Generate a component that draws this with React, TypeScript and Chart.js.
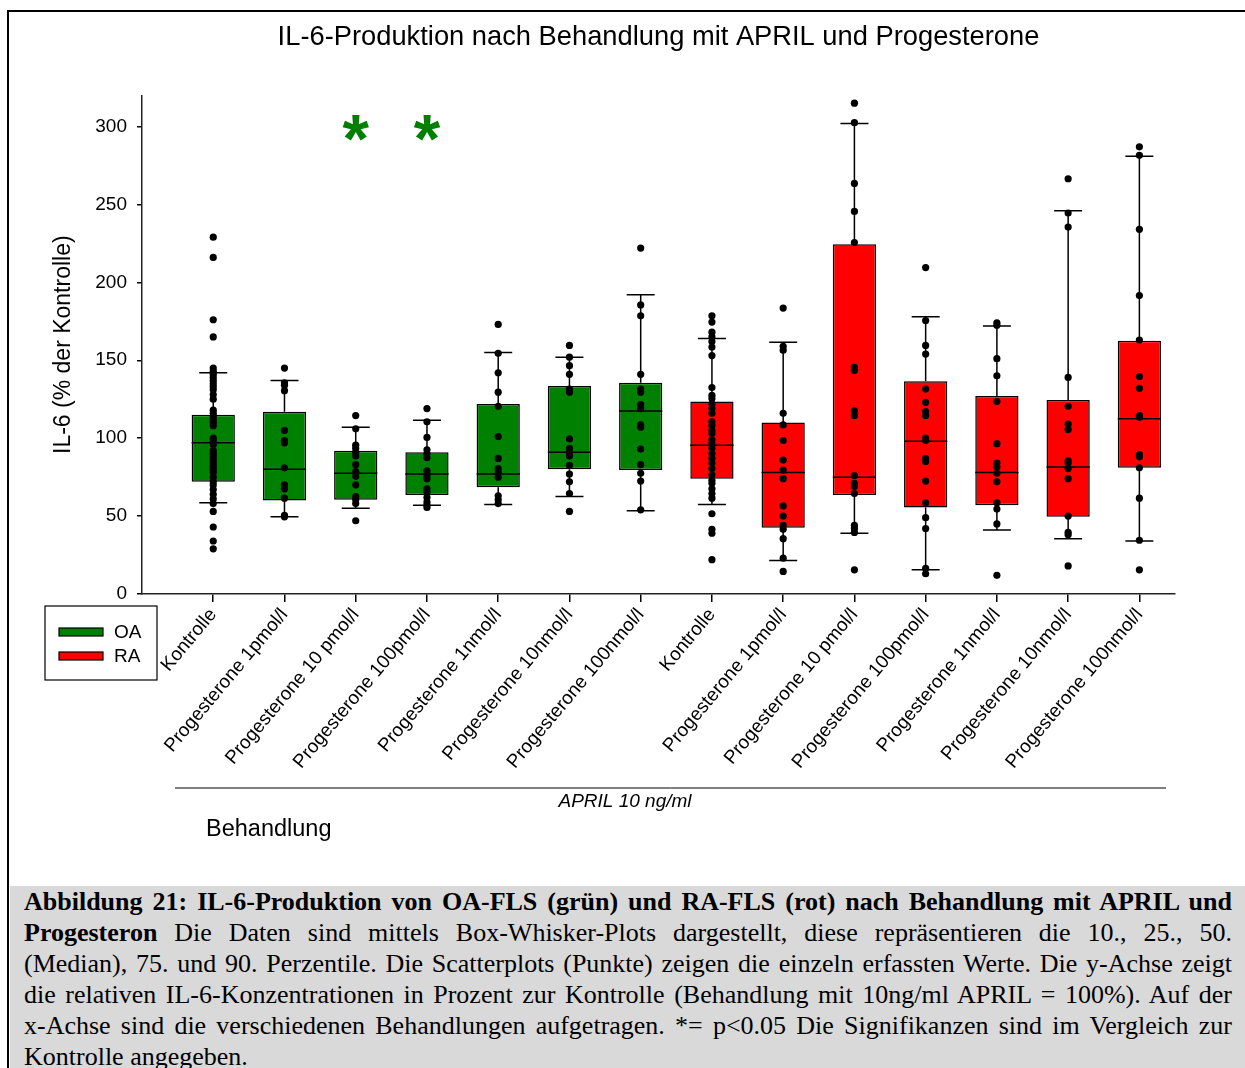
import { useEffect, useRef } from 'react';
import { Chart, registerables } from 'chart.js';

Chart.register(...registerables);

const SANS = '"Liberation Sans", Arial, sans-serif';
const SERIF = '"Liberation Serif", "Times New Roman", serif';

// x categories (OA block followed by RA block)
const categories = [
  'Kontrolle',
  'Progesterone 1pmol/l',
  'Progesterone 10 pmol/l',
  'Progesterone 100pmol/l',
  'Progesterone 1nmol/l',
  'Progesterone 10nmol/l',
  'Progesterone 100nmol/l',
  'Kontrolle',
  'Progesterone 1pmol/l',
  'Progesterone 10 pmol/l',
  'Progesterone 100pmol/l',
  'Progesterone 1nmol/l',
  'Progesterone 10nmol/l',
  'Progesterone 100nmol/l',
];

const seriesNames = ['OA', 'RA'];
const seriesColors = ['#008000', '#ff0000'];
const groupSeries = [0, 0, 0, 0, 0, 0, 0, 1, 1, 1, 1, 1, 1, 1];

// box-whisker statistics per group (10., 25., 50., 75., 90. percentile)
const p10 = [58.5, 49.5, 55, 57, 57.5, 62.5, 53.5, 57.5, 21.5, 39, 15.5, 41, 35.5, 34];
const q1 = [72, 60, 60.5, 63.5, 68.5, 80, 79.5, 74, 42.5, 63.5, 55.5, 57, 49.5, 81];
const median = [97, 80, 77.5, 77, 77, 91, 117.5, 95.5, 78, 75, 98, 78, 81.5, 112.5];
const q3 = [115, 117, 92, 91, 122, 133.5, 135.5, 123.5, 110, 224.5, 136.5, 127, 124.5, 162.5];
const p90 = [142, 137, 107, 111.5, 155, 152, 192, 164, 161.5, 302, 178, 172, 246, 281];

// single measurements (% der Kontrolle)
const oaKontrolle = [229, 216, 176, 165, 145, 143, 141, 139, 137, 135, 133, 131, 128, 125, 118, 116, 114, 112, 110, 108, 100, 98, 96, 92, 90, 88, 86, 84, 82, 80, 78, 75, 72, 70, 67, 64, 61, 58, 53, 43, 34, 29];
const oaP1pmol = [145, 135.5, 134, 130.5, 105, 98.5, 97, 81, 70, 67.5, 61.5, 50.5, 49.5];
const oaP10pmol = [114.5, 106, 95.5, 93.5, 91, 88.5, 83, 78.5, 75.5, 70, 62.5, 60.5, 58, 47];
const oaP100pmol = [119, 110.5, 100.5, 92.5, 90, 87.5, 79, 76, 74, 67.5, 65.5, 62, 59, 57, 55.5];
const oaP1nmol = [173, 154.5, 142, 129.5, 120.5, 101, 87, 80.5, 78, 75, 63, 60.5, 58];
const oaP10nmol = [159.5, 152, 146.5, 141, 131.5, 129.5, 99.5, 93.5, 91, 88.5, 82.5, 77, 72, 64.5, 53];
const oaP100nmol = [222, 185.5, 178.5, 141, 131.5, 129.5, 121.5, 119, 108.5, 107, 93, 83, 77.5, 72.5, 54];
const raKontrolle = [178.5, 174.5, 168, 165, 162, 158.5, 153, 132.5, 127.5, 125.5, 122, 119, 116, 110.5, 108, 105, 103, 99, 96.5, 93.5, 90, 87, 84, 80.5, 76.5, 73, 71, 67.5, 64.5, 61.5, 51.5, 41.5, 39, 22];
const raP1pmol = [183.5, 159, 156.5, 116, 108.5, 98.5, 86, 79.5, 74, 56.5, 50, 44, 41.5, 35.5, 23, 14.5];
const raP10pmol = [315, 302.5, 263.5, 245.5, 225.5, 145.5, 143.5, 117.5, 114.5, 76, 71, 69, 64.5, 44, 42, 39.5, 15.5];
const raP100pmol = [209.5, 175.5, 159.5, 154, 131.5, 123, 117, 114.5, 100, 98.5, 87, 85, 72.5, 58.5, 49, 42, 16.5, 13];
const raP1nmol = [174, 172.5, 151, 140, 123.5, 96.5, 84, 81.5, 77.5, 72, 58.5, 54.5, 45, 12];
const raP10nmol = [266.5, 244.5, 235.5, 139, 120.5, 109, 105.5, 85.5, 84, 80.5, 74, 50, 39.5, 38, 18];
const raP100nmol = [287, 281.5, 234, 191.5, 163, 139.5, 132, 114.5, 113.5, 89.5, 88, 81, 61.5, 34.5, 15.5];

const pointsByGroup = [
  oaKontrolle, oaP1pmol, oaP10pmol, oaP100pmol, oaP1nmol, oaP10nmol, oaP100nmol,
  raKontrolle, raP1pmol, raP10pmol, raP100pmol, raP1nmol, raP10nmol, raP100nmol,
];

// groups marked significant (p<0.05) and the height of the marker
const significantGroups = [2, 3];
const significanceLevel = 299;

const yMin = 0;
const yMax = 320;
const yStep = 50;

const chartTitle = 'IL-6-Produktion nach Behandlung mit APRIL und Progesterone';
const yTitle = 'IL-6 (% der Kontrolle)';
const xTitle = 'Behandlung';
const treatmentNote = 'APRIL 10 ng/ml';

const captionLines: { bold?: string; text?: string }[] = [
  { bold: 'Abbildung 21: IL-6-Produktion von OA-FLS (grün) und RA-FLS (rot) nach Behandlung mit APRIL und' },
  { bold: 'Progesteron', text: ' Die Daten sind mittels Box-Whisker-Plots dargestellt, diese repräsentieren die 10., 25., 50.' },
  { text: '(Median), 75. und 90. Perzentile. Die Scatterplots (Punkte) zeigen die einzeln erfassten Werte. Die y-Achse zeigt' },
  { text: 'die relativen IL-6-Konzentrationen in Prozent zur Kontrolle (Behandlung mit 10ng/ml APRIL = 100%). Auf der' },
  { text: 'x-Achse sind die verschiedenen Behandlungen aufgetragen. *= p<0.05 Die Signifikanzen sind im Vergleich zur' },
  { text: 'Kontrolle angegeben.' },
];

// whiskers with caps and median line, drawn right after each box dataset
const boxWhiskerPlugin = {
  id: 'boxWhiskers',
  afterDatasetDraw(chart: any, args: any) {
    const ds = chart.data.datasets[args.index];
    if (ds.type !== 'bar') return;
    const meta = chart.getDatasetMeta(args.index);
    const xs = chart.scales.x;
    const ys = chart.scales.y;
    const ctx = chart.ctx;
    ctx.save();
    ctx.strokeStyle = '#000';
    ctx.lineWidth = 1.5;
    ds.data.forEach((d: any, j: number) => {
      const g = d.x;
      const cx = xs.getPixelForValue(g);
      const half = meta.data[j].width / 2;
      const cap = 14;
      const yTop = ys.getPixelForValue(p90[g]);
      const yQ3 = ys.getPixelForValue(q3[g]);
      const yQ1 = ys.getPixelForValue(q1[g]);
      const yBot = ys.getPixelForValue(p10[g]);
      const yMed = ys.getPixelForValue(median[g]);
      ctx.beginPath();
      ctx.moveTo(cx, yQ3);
      ctx.lineTo(cx, yTop);
      ctx.moveTo(cx - cap, yTop);
      ctx.lineTo(cx + cap, yTop);
      ctx.moveTo(cx, yQ1);
      ctx.lineTo(cx, yBot);
      ctx.moveTo(cx - cap, yBot);
      ctx.lineTo(cx + cap, yBot);
      ctx.moveTo(cx - half, yMed);
      ctx.lineTo(cx + half, yMed);
      ctx.stroke();
    });
    ctx.restore();
  },
};

// significance stars, legend box and the treatment bracket below the axis
const annotationPlugin = {
  id: 'annotations',
  afterDraw(chart: any) {
    const { ctx, chartArea } = chart;
    const xs = chart.scales.x;
    const ys = chart.scales.y;
    ctx.save();

    // stars
    ctx.fillStyle = '#008000';
    ctx.font = `bold 68px ${SANS}`;
    ctx.textAlign = 'center';
    ctx.textBaseline = 'alphabetic';
    const m = ctx.measureText('*');
    const shift = (m.actualBoundingBoxAscent - m.actualBoundingBoxDescent) / 2;
    significantGroups.forEach((g) => {
      ctx.fillText('*', xs.getPixelForValue(g), ys.getPixelForValue(significanceLevel) + shift);
    });

    // legend
    const lx = chartArea.left - 97;
    const ly = chartArea.bottom + 12;
    ctx.strokeStyle = '#000';
    ctx.lineWidth = 1.2;
    ctx.strokeRect(lx, ly, 112, 74);
    ctx.font = `19px ${SANS}`;
    ctx.textAlign = 'left';
    ctx.textBaseline = 'middle';
    seriesNames.forEach((name, k) => {
      const cy = ly + 26 + k * 24;
      ctx.fillStyle = seriesColors[k];
      ctx.fillRect(lx + 14, cy - 4, 44, 8);
      ctx.strokeRect(lx + 14, cy - 4, 44, 8);
      ctx.fillStyle = '#000';
      ctx.fillText(name, lx + 69, cy + 1);
    });

    // treatment bracket line and labels
    const lineY = chartArea.bottom + 194;
    ctx.beginPath();
    ctx.lineWidth = 1;
    ctx.moveTo(chartArea.left + 33, lineY);
    ctx.lineTo(chartArea.right - 9, lineY);
    ctx.stroke();
    ctx.fillStyle = '#000';
    ctx.font = `italic 19px ${SANS}`;
    ctx.textAlign = 'center';
    ctx.textBaseline = 'middle';
    ctx.fillText(treatmentNote, chartArea.left + 483, lineY + 14);
    ctx.font = `23.5px ${SANS}`;
    ctx.textAlign = 'left';
    ctx.fillText(xTitle, chartArea.left + 64, lineY + 42);

    ctx.restore();
  },
};

function buildConfig(): any {
  const boxDatasets = seriesNames.map((name, k) => ({
    type: 'bar',
    label: name,
    data: categories
      .map((_, i) => i)
      .filter((i) => groupSeries[i] === k)
      .map((i) => ({ x: i, y: [q1[i], q3[i]] })),
    backgroundColor: seriesColors[k],
    borderColor: '#000',
    borderWidth: 1.5,
    borderSkipped: false,
    grouped: false,
    barPercentage: 0.607,
    categoryPercentage: 1,
    order: 2,
  }));

  const points = pointsByGroup.flatMap((vals, i) => vals.map((v) => ({ x: i, y: v })));

  return {
    type: 'bar',
    data: {
      datasets: [
        ...boxDatasets,
        {
          type: 'scatter',
          label: 'Einzelwerte',
          data: points,
          backgroundColor: '#000',
          borderWidth: 0,
          pointRadius: 3.6,
          order: 0,
        },
      ],
    },
    options: {
      responsive: false,
      animation: false,
      events: [],
      layout: { padding: { left: 0, right: 70, top: 0, bottom: 0 } },
      plugins: {
        legend: { display: false },
        tooltip: { enabled: false },
        title: {
          display: true,
          text: chartTitle,
          fullSize: false,
          color: '#000',
          font: { family: SANS, size: 27.3, weight: 'normal' },
          padding: { top: 8.8, bottom: 41.8 },
        },
      },
      scales: {
        x: {
          type: 'linear',
          min: -1,
          max: 13.5,
          offset: false,
          afterBuildTicks: (s: any) => {
            s.ticks = categories.map((_, i) => ({ value: i }));
          },
          afterFit: (s: any) => {
            s.height = 292;
          },
          ticks: {
            autoSkip: false,
            minRotation: 50,
            maxRotation: 50,
            padding: 2,
            color: '#000',
            font: { family: SANS, size: 19 },
            callback: (v: number) => categories[v] ?? '',
          },
          grid: { offset: false, drawOnChartArea: false, tickLength: 8, color: '#000', lineWidth: 1.5 },
          border: { color: '#222', width: 1.5 },
        },
        y: {
          type: 'linear',
          min: yMin,
          max: yMax,
          afterFit: (s: any) => {
            s.width = 132;
          },
          ticks: {
            stepSize: yStep,
            includeBounds: false,
            padding: 10,
            color: '#000',
            font: { family: SANS, size: 19 },
          },
          grid: { drawOnChartArea: false, tickLength: 5, color: '#000', lineWidth: 1.5 },
          border: { color: '#222', width: 1.5 },
          title: {
            display: true,
            text: yTitle,
            color: '#000',
            font: { family: SANS, size: 23 },
            padding: { top: 40, bottom: 0 },
          },
        },
      },
    },
    plugins: [boxWhiskerPlugin, annotationPlugin],
  };
}

export default function App() {
  const canvasRef = useRef<HTMLCanvasElement>(null);

  useEffect(() => {
    if (!canvasRef.current) return;
    const chart = new Chart(canvasRef.current, buildConfig());
    return () => chart.destroy();
  }, []);

  return (
    <div
      style={{
        position: 'absolute',
        left: 0,
        top: 0,
        width: 1245,
        height: 1068,
        overflow: 'hidden',
        background: '#fff',
      }}
    >
      <div
        style={{
          position: 'absolute',
          left: 7,
          top: 10,
          width: 1260,
          height: 1080,
          borderLeft: '2px solid #000',
          borderTop: '2px solid #000',
        }}
      />
      <canvas
        ref={canvasRef}
        width={1235}
        height={874}
        style={{ position: 'absolute', left: 10, top: 12, width: 1235, height: 874 }}
      />
      <div
        style={{
          position: 'absolute',
          left: 10,
          top: 886,
          width: 1235,
          height: 190,
          background: '#d9d9d9',
          fontFamily: SERIF,
          fontSize: 26,
          color: '#000',
        }}
      >
        {captionLines.map((line, i) => (
          <div
            key={i}
            style={{
              marginLeft: 14,
              width: 1208,
              height: 31,
              lineHeight: '31px',
              whiteSpace: 'nowrap',
              textAlign: 'justify',
              textAlignLast: i === captionLines.length - 1 ? 'left' : 'justify',
            }}
          >
            {line.bold ? <b>{line.bold}</b> : null}
            {line.text ?? null}
          </div>
        ))}
      </div>
    </div>
  );
}
